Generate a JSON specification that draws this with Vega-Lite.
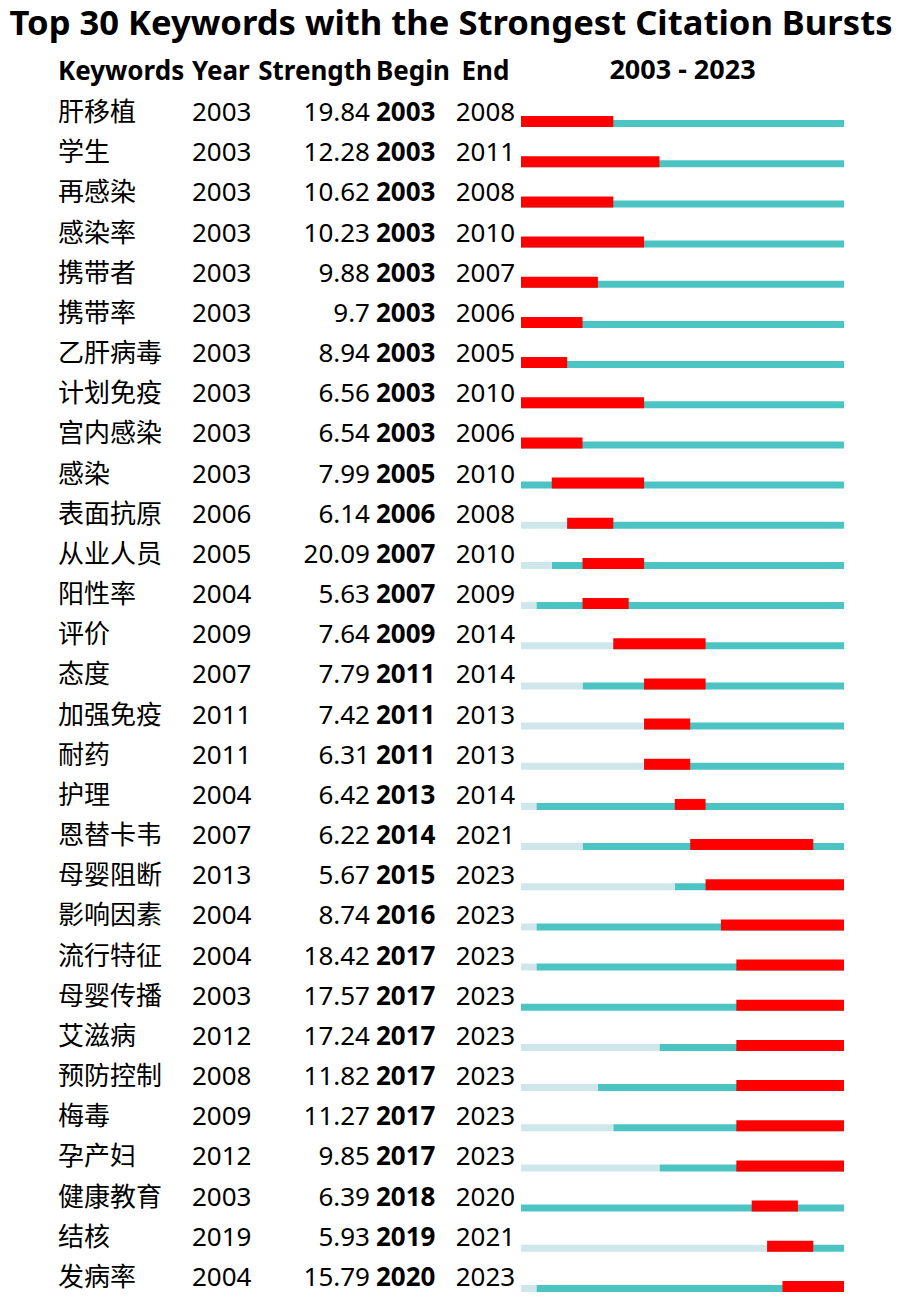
{
  "$schema": "https://vega.github.io/schema/vega-lite/v6.json",
  "background": "white",
  "padding": {"left": 9, "top": 7, "right": 10, "bottom": 1},
  "config": {
    "view": {"stroke": null},
    "font": "Noto Sans, Noto Sans CJK SC",
    "concat": {"spacing": 0}
  },
  "title": {"text": "Top 30 Keywords with the Strongest Citation Bursts", "font": "Noto Sans, Noto Sans CJK SC", "fontSize": 34.6, "fontWeight": "bold", "color": "black", "anchor": "middle", "offset": 14},
  "data": {"values": [
    {"Keyword": "肝移植", "Year": 2003, "Strength": "19.84", "Begin": 2003, "End": 2008},
    {"Keyword": "学生", "Year": 2003, "Strength": "12.28", "Begin": 2003, "End": 2011},
    {"Keyword": "再感染", "Year": 2003, "Strength": "10.62", "Begin": 2003, "End": 2008},
    {"Keyword": "感染率", "Year": 2003, "Strength": "10.23", "Begin": 2003, "End": 2010},
    {"Keyword": "携带者", "Year": 2003, "Strength": "9.88", "Begin": 2003, "End": 2007},
    {"Keyword": "携带率", "Year": 2003, "Strength": "9.7", "Begin": 2003, "End": 2006},
    {"Keyword": "乙肝病毒", "Year": 2003, "Strength": "8.94", "Begin": 2003, "End": 2005},
    {"Keyword": "计划免疫", "Year": 2003, "Strength": "6.56", "Begin": 2003, "End": 2010},
    {"Keyword": "宫内感染", "Year": 2003, "Strength": "6.54", "Begin": 2003, "End": 2006},
    {"Keyword": "感染", "Year": 2003, "Strength": "7.99", "Begin": 2005, "End": 2010},
    {"Keyword": "表面抗原", "Year": 2006, "Strength": "6.14", "Begin": 2006, "End": 2008},
    {"Keyword": "从业人员", "Year": 2005, "Strength": "20.09", "Begin": 2007, "End": 2010},
    {"Keyword": "阳性率", "Year": 2004, "Strength": "5.63", "Begin": 2007, "End": 2009},
    {"Keyword": "评价", "Year": 2009, "Strength": "7.64", "Begin": 2009, "End": 2014},
    {"Keyword": "态度", "Year": 2007, "Strength": "7.79", "Begin": 2011, "End": 2014},
    {"Keyword": "加强免疫", "Year": 2011, "Strength": "7.42", "Begin": 2011, "End": 2013},
    {"Keyword": "耐药", "Year": 2011, "Strength": "6.31", "Begin": 2011, "End": 2013},
    {"Keyword": "护理", "Year": 2004, "Strength": "6.42", "Begin": 2013, "End": 2014},
    {"Keyword": "恩替卡韦", "Year": 2007, "Strength": "6.22", "Begin": 2014, "End": 2021},
    {"Keyword": "母婴阻断", "Year": 2013, "Strength": "5.67", "Begin": 2015, "End": 2023},
    {"Keyword": "影响因素", "Year": 2004, "Strength": "8.74", "Begin": 2016, "End": 2023},
    {"Keyword": "流行特征", "Year": 2004, "Strength": "18.42", "Begin": 2017, "End": 2023},
    {"Keyword": "母婴传播", "Year": 2003, "Strength": "17.57", "Begin": 2017, "End": 2023},
    {"Keyword": "艾滋病", "Year": 2012, "Strength": "17.24", "Begin": 2017, "End": 2023},
    {"Keyword": "预防控制", "Year": 2008, "Strength": "11.82", "Begin": 2017, "End": 2023},
    {"Keyword": "梅毒", "Year": 2009, "Strength": "11.27", "Begin": 2017, "End": 2023},
    {"Keyword": "孕产妇", "Year": 2012, "Strength": "9.85", "Begin": 2017, "End": 2023},
    {"Keyword": "健康教育", "Year": 2003, "Strength": "6.39", "Begin": 2018, "End": 2020},
    {"Keyword": "结核", "Year": 2019, "Strength": "5.93", "Begin": 2019, "End": 2021},
    {"Keyword": "发病率", "Year": 2004, "Strength": "15.79", "Begin": 2020, "End": 2023}
  ]},
  "hconcat": [
    {
      "width": 134, "height": 1205,
      "title": {"text": "Keywords", "anchor": "start", "fontSize": 26, "fontWeight": "bold", "color": "black", "offset": 8},
      "mark": {"type": "text", "align": "left", "baseline": "middle", "x": 0, "fontSize": 26, "color": "black"},
      "encoding": {
        "y": {"field": "Keyword", "type": "nominal", "sort": null, "axis": null, "scale": {"paddingInner": 0, "paddingOuter": 0}},
        "text": {"field": "Keyword", "type": "nominal"}
      }
    },
    {
      "width": 65, "height": 1205,
      "title": {"text": "Year", "anchor": "start", "fontSize": 26, "fontWeight": "bold", "color": "black", "offset": 8},
      "mark": {"type": "text", "align": "left", "baseline": "middle", "x": 0, "fontSize": 26, "color": "black"},
      "encoding": {
        "y": {"field": "Keyword", "type": "nominal", "sort": null, "axis": null, "scale": {"paddingInner": 0, "paddingOuter": 0}},
        "text": {"field": "Year", "type": "nominal"}
      }
    },
    {
      "width": 115, "height": 1205,
      "title": {"text": "Strength", "anchor": "end", "fontSize": 26, "fontWeight": "bold", "color": "black", "offset": 8},
      "mark": {"type": "text", "align": "right", "baseline": "middle", "x": "width", "dx": -2, "fontSize": 26, "color": "black"},
      "encoding": {
        "y": {"field": "Keyword", "type": "nominal", "sort": null, "axis": null, "scale": {"paddingInner": 0, "paddingOuter": 0}},
        "text": {"field": "Strength", "type": "nominal"}
      }
    },
    {
      "width": 78, "height": 1205,
      "title": {"text": "Begin", "anchor": "start", "fontSize": 26, "fontWeight": "bold", "color": "black", "offset": 8, "dx": 4},
      "mark": {"type": "text", "align": "left", "baseline": "middle", "x": 0, "dx": 4, "fontSize": 26, "fontWeight": "bold", "color": "black"},
      "encoding": {
        "y": {"field": "Keyword", "type": "nominal", "sort": null, "axis": null, "scale": {"paddingInner": 0, "paddingOuter": 0}},
        "text": {"field": "Begin", "type": "nominal"}
      }
    },
    {
      "width": 71, "height": 1205,
      "title": {"text": "End", "anchor": "middle", "fontSize": 26, "fontWeight": "bold", "color": "black", "offset": 8},
      "mark": {"type": "text", "align": "center", "baseline": "middle", "x": 35.5, "fontSize": 26, "color": "black"},
      "encoding": {
        "y": {"field": "Keyword", "type": "nominal", "sort": null, "axis": null, "scale": {"paddingInner": 0, "paddingOuter": 0}},
        "text": {"field": "End", "type": "nominal"}
      }
    },
    {
      "width": 323, "height": 1205,
      "title": {"text": "2003 - 2023", "anchor": "middle", "fontSize": 27, "fontWeight": "bold", "color": "black", "offset": 8},
      "encoding": {
        "y": {"field": "Keyword", "type": "nominal", "sort": null, "axis": null, "scale": {"paddingInner": 0, "paddingOuter": 0}}
      },
      "layer": [
        {
          "mark": {"type": "rect", "height": 7, "yOffset": 10.5, "color": "#4dc4c4"},
          "encoding": {
            "x": {"field": "Year", "type": "ordinal", "bandPosition": 0, "axis": null, "scale": {"domain": [2003, 2004, 2005, 2006, 2007, 2008, 2009, 2010, 2011, 2012, 2013, 2014, 2015, 2016, 2017, 2018, 2019, 2020, 2021, 2022, 2023], "paddingInner": 0, "paddingOuter": 0}},
            "x2": {"datum": 2023, "bandPosition": 1}
          }
        },
        {
          "mark": {"type": "rect", "height": 7, "yOffset": 10.5, "color": "#cfe7ea"},
          "encoding": {
            "x": {"field": "Year", "type": "ordinal", "bandPosition": 0},
            "x2": {"datum": 2003, "bandPosition": 0}
          }
        },
        {
          "mark": {"type": "rect", "height": 11, "yOffset": 8.5, "color": "#ff0000"},
          "encoding": {
            "x": {"field": "Begin", "type": "ordinal", "bandPosition": 0},
            "x2": {"field": "End", "bandPosition": 1}
          }
        }
      ]
    }
  ]
}
